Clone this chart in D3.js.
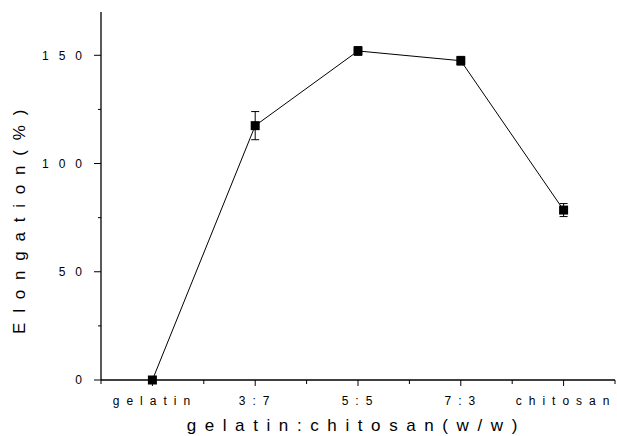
<!DOCTYPE html>
<html>
<head>
<meta charset="utf-8">
<script src="https://cdn.jsdelivr.net/npm/d3@7"></script>
<style>
  body { margin: 0; background: #fff; }
  text { font-family: "Liberation Sans", Arial, sans-serif; fill: #000; }
</style>
</head>
<body>
<svg id="chart" width="617" height="436"></svg>
<script>
// Data
const categories = ['gelatin', '3:7', '5:5', '7:3', 'chitosan'];
const elongation = [0, 117.5, 152, 147.5, 78.5];
const errors = [0, 6.5, 2, 2, 3];
const yTicks = [0, 50, 100, 150];
const yMinorTicks = [25, 75, 125];

const svg = d3.select('#chart');
const margin = { left: 101, right: 2, top: 12, bottom: 56 };
const W = 617, H = 436;

// x runs in half-category steps so that minor ticks fall between categories
const x = d3.scaleLinear().domain([0, 10]).range([margin.left, W - margin.right]);
const y = d3.scaleLinear().domain([0, 170]).range([H - margin.bottom, margin.top]);
const xPos = i => x(2 * i + 1);

// wide letter spacing as in the original figure
const tickLS = 10, catLS = 7, titleLS = 8.6, yTitleLS = 9.8;

// Y axis
const yAxis = svg.append('g').attr('transform', `translate(${margin.left},0)`);
yAxis.append('line')
    .attr('x1', 0).attr('x2', 0)
    .attr('y1', y(170)).attr('y2', y(0))
    .attr('stroke', '#000').attr('stroke-width', 1.3);
yAxis.selectAll('.major').data(yTicks).join('line')
    .attr('x1', -7).attr('x2', 0)
    .attr('y1', d => y(d)).attr('y2', d => y(d))
    .attr('stroke', '#000').attr('stroke-width', 1);
yAxis.selectAll('.minor').data(yMinorTicks).join('line')
    .attr('x1', -3).attr('x2', 0)
    .attr('y1', d => y(d)).attr('y2', d => y(d))
    .attr('stroke', '#000').attr('stroke-width', 1);
yAxis.selectAll('text').data(yTicks).join('text')
    .attr('x', -19 + tickLS).attr('y', d => y(d)).attr('dy', '0.36em')
    .attr('text-anchor', 'end')
    .attr('font-size', 12)
    .attr('letter-spacing', tickLS)
    .text(d => String(d));

// X axis
const xAxis = svg.append('g').attr('transform', `translate(0,${y(0)})`);
xAxis.append('line')
    .attr('x1', x(0)).attr('x2', x(10))
    .attr('y1', 0).attr('y2', 0)
    .attr('stroke', '#000').attr('stroke-width', 1.3);
xAxis.selectAll('line.tick').data(d3.range(0, 11)).join('line')
    .attr('class', 'tick')
    .attr('x1', d => x(d)).attr('x2', d => x(d))
    .attr('y1', 0).attr('y2', d => d % 2 ? 6 : 4)
    .attr('stroke', '#000').attr('stroke-width', 1);
xAxis.selectAll('text').data(categories).join('text')
    .attr('x', (d, i) => xPos(i) + catLS / 2 - 1).attr('y', 25)
    .attr('text-anchor', 'middle')
    .attr('font-size', 12)
    .attr('letter-spacing', catLS)
    .text(d => d);

// Axis titles
svg.append('text')
    .attr('x', 352 + titleLS / 2).attr('y', 431)
    .attr('text-anchor', 'middle')
    .attr('font-size', 17)
    .attr('letter-spacing', titleLS)
    .text('gelatin:chitosan(w/w)');
svg.append('text')
    .attr('transform', `translate(25,${212 + yTitleLS / 2}) rotate(-90)`)
    .attr('text-anchor', 'middle')
    .attr('font-size', 17)
    .attr('letter-spacing', yTitleLS)
    .text('Elongation(%)');

// Line
const line = d3.line().x((d, i) => xPos(i)).y(d => y(d));
svg.append('path')
    .datum(elongation)
    .attr('d', line)
    .attr('fill', 'none')
    .attr('stroke', '#000')
    .attr('stroke-width', 1);

// Error bars
const eb = svg.append('g').attr('stroke', '#000').attr('stroke-width', 1);
elongation.forEach((v, i) => {
    if (!errors[i]) return;
    const cx = xPos(i);
    eb.append('line').attr('x1', cx).attr('x2', cx)
        .attr('y1', y(v + errors[i])).attr('y2', y(v - errors[i]));
    [v + errors[i], v - errors[i]].forEach(e => {
        eb.append('line').attr('x1', cx - 4).attr('x2', cx + 4)
            .attr('y1', y(e)).attr('y2', y(e));
    });
});

// Markers
svg.selectAll('rect.pt').data(elongation).join('rect')
    .attr('class', 'pt')
    .attr('x', (d, i) => xPos(i) - 4.5)
    .attr('y', d => y(d) - 4.5)
    .attr('width', 9).attr('height', 9)
    .attr('fill', '#000');
</script>
</body>
</html>
